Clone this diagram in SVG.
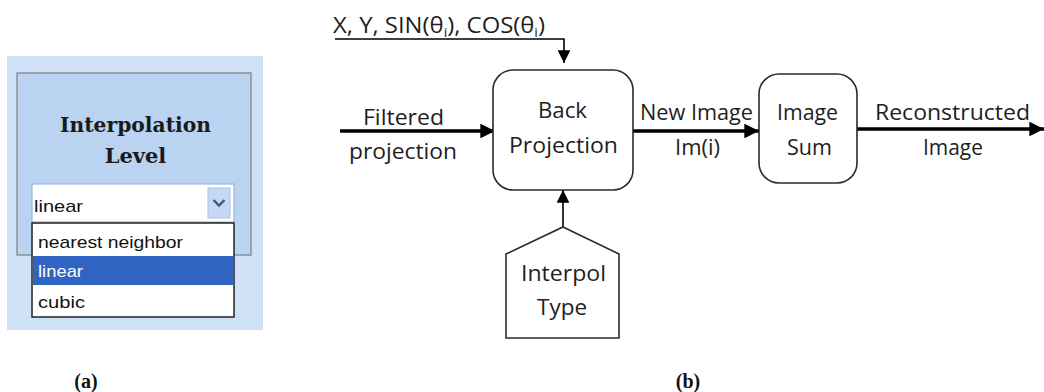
<svg xmlns="http://www.w3.org/2000/svg" width="1044" height="392" viewBox="0 0 1044 392">
<style>
.lbl{font-family:"Open Sans","Liberation Sans",sans-serif;font-size:22px;fill:#1e1e1e}
.ui{font-family:"Liberation Sans",Arial,sans-serif;font-size:17px;fill:#111}
.box{fill:#fff;stroke:#2a2a2a;stroke-width:1.6}
.thick{stroke:#000;stroke-width:3.5;fill:none}
.thin{stroke:#000;stroke-width:1.6;fill:none}
.cap{font-family:"Liberation Serif","Times New Roman",serif;font-weight:bold;font-size:20px;fill:#111}
</style>
<defs>
<marker id="ah" viewBox="0 0 10 10" refX="10" refY="5" markerWidth="4.2" markerHeight="4.2" orient="auto" markerUnits="strokeWidth">
<path d="M0,0 L10,5 L0,10 z" fill="#000"/>
</marker>
<marker id="ahs" viewBox="0 0 10 10" refX="10" refY="5" markerWidth="8" markerHeight="8" orient="auto" markerUnits="strokeWidth">
<path d="M0,0 L10,5 L0,10 z" fill="#000"/>
</marker>
</defs>
<rect width="1044" height="392" fill="#fff"/>

<g id="panel-a">
<rect x="7" y="56" width="256" height="274" fill="#cfe1f6"/>
<rect x="17" y="73" width="234" height="182" fill="#b9d3f0" stroke="#8a9098" stroke-width="1.5"/>
<text x="135.5" y="132" text-anchor="middle" font-family="'DejaVu Serif',serif" font-weight="bold" font-size="21" fill="#1a1a1a" textLength="151" lengthAdjust="spacingAndGlyphs">Interpolation</text>
<text x="135.5" y="163" text-anchor="middle" font-family="'DejaVu Serif',serif" font-weight="bold" font-size="21" fill="#1a1a1a">Level</text>
<rect x="32" y="184" width="202" height="38" fill="#fff" stroke="#9bb6da" stroke-width="1.2"/>
<rect x="208" y="188" width="22" height="30" fill="#c6d9f4" stroke="#a9c1e4" stroke-width="1"/>
<polyline points="213.5,200 219,205.5 224.5,200" fill="none" stroke="#3a5a86" stroke-width="2.4"/>
<text class="ui" x="34" y="212" textLength="49" lengthAdjust="spacingAndGlyphs">linear</text>
<rect x="32" y="223" width="202" height="94" fill="#fff" stroke="#222" stroke-width="1.5"/>
<rect x="33" y="256" width="200" height="29" fill="#2f64c2"/>
<text class="ui" x="38" y="248" textLength="145" lengthAdjust="spacingAndGlyphs">nearest neighbor</text>
<text class="ui" x="38" y="277" style="fill:#fff" textLength="45" lengthAdjust="spacingAndGlyphs">linear</text>
<text class="ui" x="38" y="308" textLength="47" lengthAdjust="spacingAndGlyphs">cubic</text>
</g>

<g id="connectors">
<polyline class="thin" points="335,39 564,39 564,63" marker-end="url(#ahs)"/>
<line class="thick" x1="340" y1="131" x2="495" y2="131" marker-end="url(#ah)"/>
<line class="thick" x1="633" y1="131" x2="759" y2="131" marker-end="url(#ah)"/>
<line class="thick" x1="857" y1="129" x2="1044" y2="129" marker-end="url(#ah)"/>
<line class="thin" x1="563" y1="227" x2="563" y2="190" marker-end="url(#ahs)"/>
</g>

<g id="label-inputs">
<text class="lbl" x="333" y="33" textLength="212" lengthAdjust="spacingAndGlyphs">X, Y, SIN(θ<tspan font-size="13" dy="4">i</tspan><tspan dy="-4">), COS(θ</tspan><tspan font-size="13" dy="4">i</tspan><tspan dy="-4">)</tspan></text>
<text class="lbl" x="363" y="125" textLength="81" lengthAdjust="spacingAndGlyphs">Filtered</text>
<text class="lbl" x="349" y="159" textLength="108" lengthAdjust="spacingAndGlyphs">projection</text>
</g>

<g id="node-back-projection">
<rect class="box" x="493" y="70" width="140" height="120" rx="20" ry="20"/>
<text class="lbl" x="538" y="118" textLength="49" lengthAdjust="spacingAndGlyphs">Back</text>
<text class="lbl" x="509" y="153" textLength="109" lengthAdjust="spacingAndGlyphs">Projection</text>
</g>

<g id="label-new-image">
<text class="lbl" x="640" y="120" textLength="113" lengthAdjust="spacingAndGlyphs">New Image</text>
<text class="lbl" x="675" y="155" textLength="45" lengthAdjust="spacingAndGlyphs">Im(i)</text>
</g>

<g id="node-image-sum">
<rect class="box" x="759" y="74" width="98" height="109" rx="20" ry="20"/>
<text class="lbl" x="777" y="120" textLength="61" lengthAdjust="spacingAndGlyphs">Image</text>
<text class="lbl" x="787" y="155" textLength="45" lengthAdjust="spacingAndGlyphs">Sum</text>
</g>

<g id="label-output">
<text class="lbl" x="875" y="120" textLength="155" lengthAdjust="spacingAndGlyphs">Reconstructed</text>
<text class="lbl" x="923" y="155" textLength="60" lengthAdjust="spacingAndGlyphs">Image</text>
</g>

<g id="node-interpol-type">
<polygon class="box" points="563,227 619,254 619,338 506,338 506,254"/>
<text class="lbl" x="521" y="281" textLength="85" lengthAdjust="spacingAndGlyphs">Interpol</text>
<text class="lbl" x="537" y="315" textLength="50" lengthAdjust="spacingAndGlyphs">Type</text>
</g>

<g id="captions">
<text class="cap" x="86" y="388" text-anchor="middle">(a)</text>
<text class="cap" x="688" y="388" text-anchor="middle">(b)</text>
</g>
</svg>
